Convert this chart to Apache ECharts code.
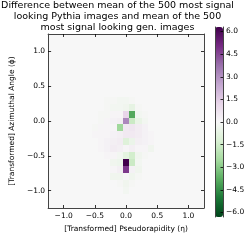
<!DOCTYPE html>
<html><head><meta charset="utf-8">
<script src="https://cdn.jsdelivr.net/npm/echarts@6/dist/echarts.min.js"></script>
<style>html,body{margin:0;padding:0;background:#fff}#c{width:249px;height:249px}</style>
</head><body><div id="c"></div>
<script>
// Cell centres (25 x 25 grid, 0.1 wide) and values
var xCenters = [-1.2,-1.1,-1.0,-0.9,-0.8,-0.7,-0.6,-0.5,-0.4,-0.3,-0.2,-0.1,0.0,0.1,0.2,0.3,0.4,0.5,0.6,0.7,0.8,0.9,1.0,1.1,1.2];
var yCenters = [1.2,1.1,1.0,0.9,0.8,0.7,0.6,0.5,0.4,0.3,0.2,0.1,0.0,-0.1,-0.2,-0.3,-0.4,-0.5,-0.6,-0.7,-0.8,-0.9,-1.0,-1.1,-1.2];
var values = [
 [0,0,0,0,0,0,0,0,0,0,0,0,0,0,0,0,0,0,0,0,0,0,0,0,0],
 [0,0,0,0,0,0,0,0,0,0,0,0,0,0,0,0,0,0,0,0,0,0,0,0,0],
 [0,0,0,0,0,0,0,0,0,0,0,0,0,0,0,0,0,0,0,0,0,0,0,0,0],
 [0,0,0,0,0,0,0,0,0,0,0,0,0,0,0,0,0,0,0,0,0,0,0,0,0],
 [0,0,0,0,0,0,0,0,0,0,0,0,0,0,0,0,0,0,0,0,0,0,0,0,0],
 [0,0,0,0,0,0,0,0,0,0,0,0,0,0,0,0,0,0,0,0,0,0,0,0,0],
 [0,0,0,0,0,0,0,0,0,0,0,0,0,0,0,0,0,0,0,0,0,0,0,0,0],
 [0,0,0,0,0,0,0,0,0,0,0,0,0,0,0,0,0,0,0,0,0,0,0,0,0],
 [0,0,0,0,0,0,0,0,0,0,0,0,0,0,0,0,0,0,0,0,0,0,0,0,0],
 [0,0,0,0,0,0,0,0,0,-0.1,-0.1,-0.2,-0.2,-0.1,0,0,0,0,0,0,0,0,0,0,0],
 [0,0,0,0,0,0,0,0,0,-0.1,-0.2,-0.2,-0.3,-0.7,-0.1,0,0,0,0,0,0,0,0,0,0],
 [0,0,0,0,0,0,0,0,-0.1,-0.1,0.1,0.1,1.2,-3.9,-0.2,-0.1,0,0,0,0,0,0,0,0,0],
 [0,0,0,0,0,0,0,0,-0.1,0.1,0.2,0.3,3.2,-1.6,-0.6,-0.2,0,0,0,0,0,0,0,0,0],
 [0,0,0,0,0,0,0,-0.1,0.1,0.1,0.1,-2.6,0.5,0.6,0.4,0.2,0,0,0,0,0,0,0,0,0],
 [0,0,0,0,0,0,0,0.1,0.1,0.1,0.2,0.3,0.5,0.5,0.4,0.2,0.1,0,0,0,0,0,0,0,0],
 [0,0,0,0,0,0,0,0,0.1,0.2,0.3,0.4,-1.0,-0.5,0.3,0.2,0.1,0,0,0,0,0,0,0,0],
 [0,0,0,0,0,0,0,0,0.1,0.2,0.4,0.3,0.1,0.3,0.1,0.1,-0.3,0,0,0,0,0,0,0,0],
 [0,0,0,0,0,0,0,0,0,0.1,0.1,-0.2,-0.8,-1.4,-0.3,-0.1,0,0,0,0,0,0,0,0,0],
 [0,0,0,0,0,0,0,0,0,0,-0.3,-0.4,6.3,-1.6,-0.2,0,0,0,0,0,0,0,0,0,0],
 [0,0,0,0,0,0,0,0,0,0,0.1,0.3,4.8,0.2,-0.3,0,0,0,0,0,0,0,0,0,0],
 [0,0,0,0,0,0,0,0,0,0,-0.3,-0.3,0.1,-0.3,-0.1,0,0,0,0,0,0,0,0,0,0],
 [0,0,0,0,0,0,0,0,0,0,0,-0.1,-0.3,-0.1,0,0,0,0,0,0,0,0,0,0,0],
 [0,0,0,0,0,0,0,0,0,0,0,0,-0.2,0,0,0,0,0,0,0,0,0,0,0,0],
 [0,0,0,0,0,0,0,0,0,0,0,0,0,0,0,0,0,0,0,0,0,0,0,0,0],
 [0,0,0,0,0,0,0,0,0,0,0,0,0,0,0,0,0,0,0,0,0,0,0,0,0]
];
var axisTicks = [-1.0,-0.5,0.0,0.5,1.0];
var cbarTicks = [-6.0,-4.5,-3.0,-1.5,0.0,1.5,3.0,4.5,6.0];
var cbarMin = -6.3, cbarMax = 6.3;
var titleLines = ['Difference between mean of the 500 most signal','looking Pythia images and mean of the 500','most signal looking gen. images'];
var xName = '[Transformed] Pseudorapidity (\u03b7)';
var yName = '[Transformed] Azimuthal Angle (\u03d5)';
var prgn = ['#00441b','#1b7837','#5aae61','#a6dba0','#d9f0d3','#f7f7f7','#e7d4e8','#c2a5cf','#9970ab','#762a83','#40004b'];

var cells = [];
for (var r = 0; r < yCenters.length; r++) {
  for (var c = 0; c < xCenters.length; c++) {
    cells.push([xCenters[c], yCenters[r], values[r][c]]);
  }
}
function fmt(v){ var s = Math.abs(v).toFixed(1); return v < 0 ? '\u2212' + s : s; }
var FONT = 'DejaVu Sans';
var lab = {fontFamily: FONT, fontSize: 7.5, color: '#000'};
var line = {show: true, onZero: false, lineStyle: {color: '#444', width: 1}};
function tick(show){ return {show: show, inside: true, length: 3, lineStyle:{color:'#000', width: 0.8}, customValues: axisTicks}; }

var chart = echarts.init(document.getElementById('c'), null, {renderer: 'canvas'});
chart.setOption({
  animation: false,
  backgroundColor: '#fff',
  graphic: [{type: 'text', x: 117.5, y: 0.5, style: {text: titleLines.join('\n'), textAlign: 'center', textVerticalAlign: 'top', font: '9.5px "DejaVu Sans"', lineHeight: 11, fill: '#000'}}],
  grid: [
    {left: 31, top: 34, width: 173, height: 174, show: true, backgroundColor: '#f7f7f7', borderWidth: 0},
    {left: 215, top: 27, width: 8, height: 190, show: false}
  ],
  xAxis: [
    {type: 'value', gridIndex: 0, z: 10, min: -1.25, max: 1.25, position: 'bottom', axisLine: line, axisTick: tick(true), splitLine: {show:false},
     axisLabel: Object.assign({customValues: axisTicks, formatter: fmt, margin: 4}, lab),
     name: xName, nameLocation: 'middle', nameGap: 15, nameTextStyle: lab},
    {type: 'value', gridIndex: 0, z: 10, min: -1.25, max: 1.25, position: 'top', axisLine: line, axisTick: tick(true), axisLabel: {show:false}, splitLine: {show:false}},
    {type: 'category', gridIndex: 1, data: [''], show: false}
  ],
  yAxis: [
    {type: 'value', gridIndex: 0, z: 10, min: -1.25, max: 1.25, position: 'left', axisLine: line, axisTick: tick(true), splitLine: {show:false},
     axisLabel: Object.assign({customValues: axisTicks, formatter: fmt, margin: 3}, lab),
     name: yName, nameLocation: 'middle', nameGap: 23, nameTextStyle: lab},
    {type: 'value', gridIndex: 0, z: 10, min: -1.25, max: 1.25, position: 'right', axisLine: line, axisTick: tick(true), axisLabel: {show:false}, splitLine: {show:false}},
    {type: 'value', gridIndex: 1, z: 10, min: cbarMin, max: cbarMax, position: 'right', axisLine: line,
     axisTick: {show: true, inside: true, length: 2.5, lineStyle:{color:'#000', width:0.8}, customValues: cbarTicks},
     axisLabel: Object.assign({customValues: cbarTicks, formatter: fmt, margin: 3}, lab), splitLine: {show:false}},
    {type: 'value', gridIndex: 1, z: 10, min: cbarMin, max: cbarMax, position: 'left', axisLine: line, axisTick: {show:false}, axisLabel: {show:false}, splitLine: {show:false}}
  ],
  visualMap: {
    type: 'continuous', min: cbarMin, max: cbarMax, dimension: 2, seriesIndex: 0, z: 4,
    left: 215, top: 27, itemWidth: 8, itemHeight: 190, padding: 0, calculable: false, hoverLink: false,
    orient: 'vertical', inRange: {color: prgn}, textStyle: {color: 'transparent'}
  },
  series: [
    {type: 'custom', xAxisIndex: 0, yAxisIndex: 0, data: cells, encode: {x: 0, y: 1},
     renderItem: function(params, api){
       var x = api.value(0), y = api.value(1);
       var p0 = api.coord([x - 0.05, y + 0.05]);
       var p1 = api.coord([x + 0.05, y - 0.05]);
       var x0 = Math.round(p0[0]), y0 = Math.round(p0[1]);
       return {type: 'rect', shape: {x: x0, y: y0, width: Math.round(p1[0]) - x0, height: Math.round(p1[1]) - y0}, style: {fill: api.visual('color')}};
     }},
    {type: 'line', xAxisIndex: 2, yAxisIndex: 2, data: [], silent: true}
  ]
});
</script></body></html>
